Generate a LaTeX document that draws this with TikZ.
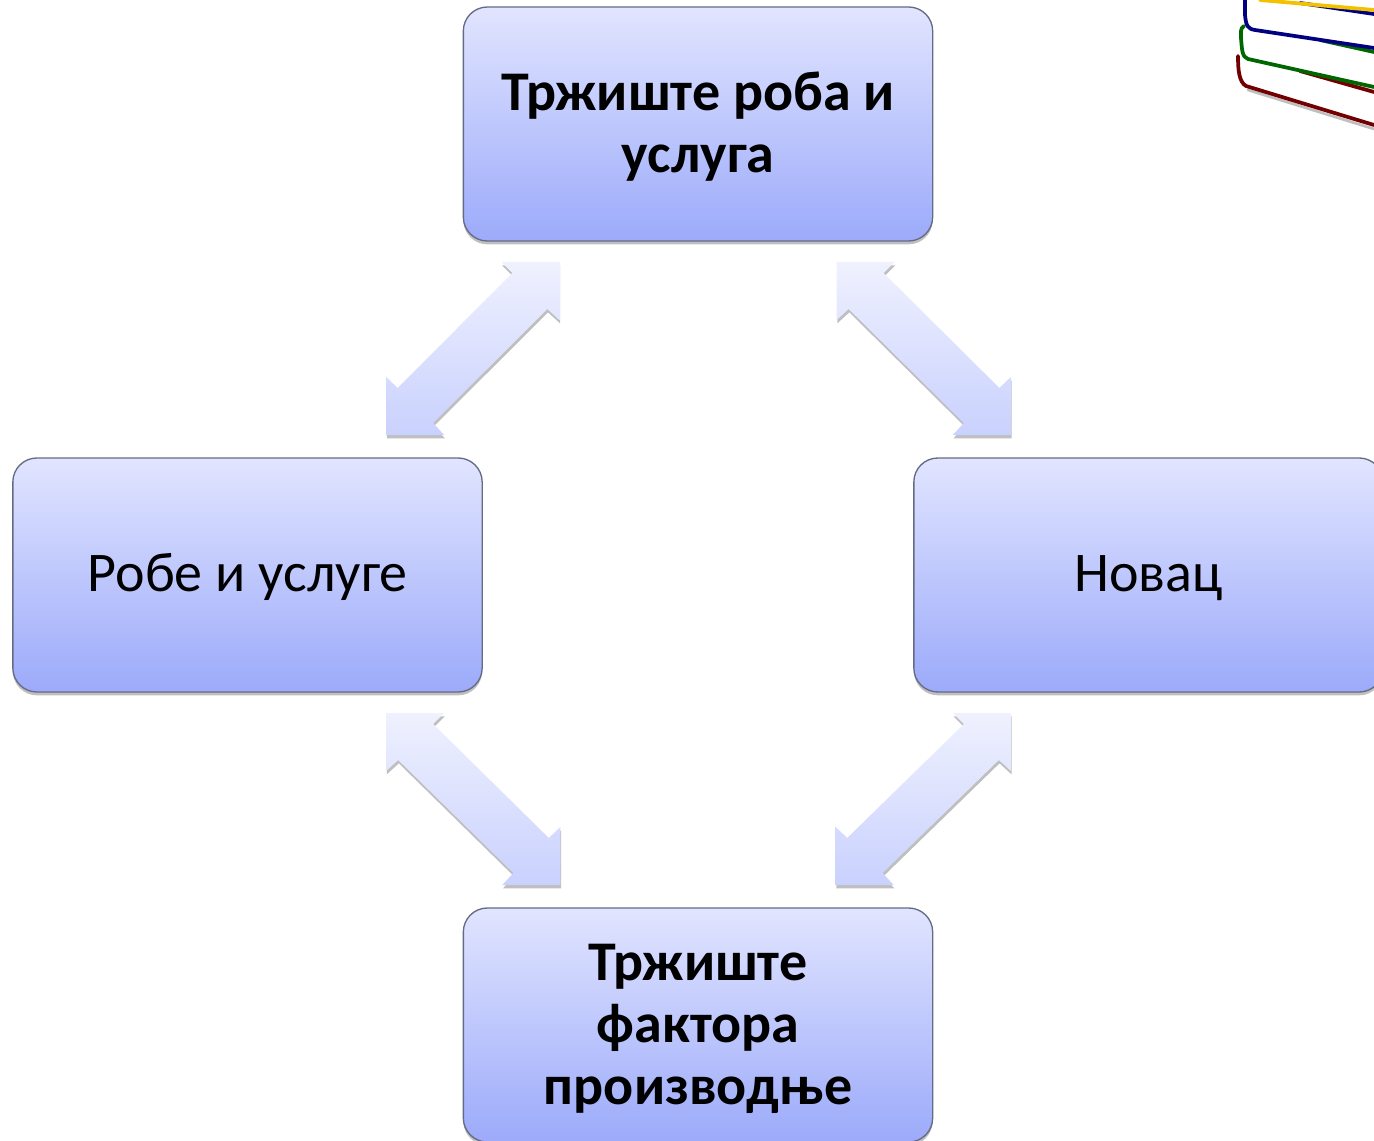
\documentclass[tikz,border=0pt]{standalone}
\usepackage{fontspec}
\setmainfont{Carlito}
\usetikzlibrary{calc,shadows}

\definecolor{boxtop}{HTML}{E1E5FF}
\definecolor{boxmid}{HTML}{BFCAFE}
\definecolor{boxbot}{HTML}{9CAAFA}
\definecolor{boxline}{HTML}{666B85}
\definecolor{arrowtop}{HTML}{EFF1FE}
\definecolor{arrowbot}{HTML}{C9D1FE}
\definecolor{bookyellow}{HTML}{F2C200}

\tikzset{
  marketbox/.style={rectangle,rounded corners=18pt,draw=boxline,line width=1pt,
    top color=boxtop,middle color=boxmid,bottom color=boxbot,outer sep=0pt,
    minimum width=352pt,minimum height=175.5pt,align=center,
    font=\fontsize{42}{46.5}\selectfont,
    drop shadow={shadow xshift=0pt,shadow yshift=-2.5pt,opacity=.25,fill=black}},
  flowarrow/.style={top color=arrowtop,bottom color=arrowbot,
    drop shadow={shadow xshift=.5pt,shadow yshift=-2.5pt,opacity=.25,fill=black}},
  bookpage/.style={fill=white,draw=none},
  bookedge/.style={line width=2.8pt,line cap=round,line join=round}
}

\newcommand{\topdrop}{\rule{0pt}{33pt}}

% #1,#2 corners of the arrow, #3,#4 direction from #1 to #2
\newcommand{\flowshape}[4]{
  \path[flowarrow] (#1)
    -- ($(#1)+(0,{(#4)*58})$)
    -- ($(#1)+({(#3)*11.5},{(#4)*47})$)
    -- ($(#2)+({(#3)*(-47)},{(#4)*(-11)})$)
    -- ($(#2)+({(#3)*(-58)},0)$)
    -- (#2)
    -- ($(#2)+(0,{(#4)*(-58)})$)
    -- ($(#2)+({(#3)*(-12)},{(#4)*(-47)})$)
    -- ($(#1)+({(#3)*47},{(#4)*12})$)
    -- ($(#1)+({(#3)*58},0)$)
    -- cycle;
}

\begin{document}
\begin{tikzpicture}[x=.75pt,y=-.75pt]
  \useasboundingbox (0,0) rectangle (1374,1141);
  \clip (0,0) rectangle (1374,1141);

  \node[marketbox,font=\fontsize{42}{46.5}\selectfont\bfseries] (goods) at (698,124) {\topdrop Тржиште роба и\\услуга};
  \node[marketbox] (products) at (247.5,575) {\rule{0pt}{31pt}Робе и услуге};
  \node[marketbox] (money) at (1148.5,575) {\rule{0pt}{31pt}Новац};
  \node[marketbox,font=\fontsize{42}{46.5}\selectfont\bfseries] (factors) at (698,1025) {\topdrop Тржиште\\фактора\\производње};

  \coordinate (gp) at ($(goods.south west)+(96,21)$);
  \coordinate (pg) at ($(products.north east)+(-96,-23)$);
  \coordinate (gm) at ($(goods.south east)+(-96,21)$);
  \coordinate (mg) at ($(money.north west)+(97,-23)$);
  \coordinate (pf) at ($(products.south east)+(-96,21)$);
  \coordinate (fp) at ($(factors.north west)+(97,-23)$);
  \coordinate (mf) at ($(money.south west)+(97,21)$);
  \coordinate (fm) at ($(factors.north east)+(-97,-23)$);

  \flowshape{pg}{gp}{1}{-1}
  \flowshape{mg}{gm}{-1}{-1}
  \flowshape{fp}{pf}{-1}{-1}
  \flowshape{fm}{mf}{1}{-1}

  % books
  \fill[bookpage] (1238,55) -- (1241,83) -- (1248,87) -- (1374,126) -- (1374,88) -- cycle;
  \draw[bookedge,draw=black!25,line width=2pt] (1248,90) -- (1374,129);
  \draw[bookedge,draw=red!45!black] (1238,56) .. controls (1238,70) and (1239,82) .. (1246,86) -- (1374,125);
  \draw[bookedge,draw=red!45!black] (1300,71) -- (1374,92);
  \fill[bookpage] (1243,25) -- (1240,33) -- (1242,55) -- (1245,59) -- (1374,88) -- (1374,50) -- cycle;
  \draw[bookedge,draw=green!40!black] (1244,26) .. controls (1240,28) and (1241,33) .. (1241,38) .. controls (1242,50) and (1242,57) .. (1248,59) -- (1374,87);
  \draw[bookedge,draw=green!40!black] (1320,40) -- (1374,52);
  \fill[bookpage] (1245,0) -- (1245,17) -- (1252,30) -- (1374,48) -- (1374,12) -- (1257,0) -- cycle;
  \draw[bookedge,draw=blue!50!black] (1245,-2) -- (1245,15) .. controls (1246,26) and (1248,29) .. (1255,30) -- (1374,48);
  \draw[bookedge,draw=blue!50!black] (1300,3) -- (1374,14);
  \draw[bookedge,draw=bookyellow] (1260,0) -- (1374,10);
\end{tikzpicture}
\end{document}
